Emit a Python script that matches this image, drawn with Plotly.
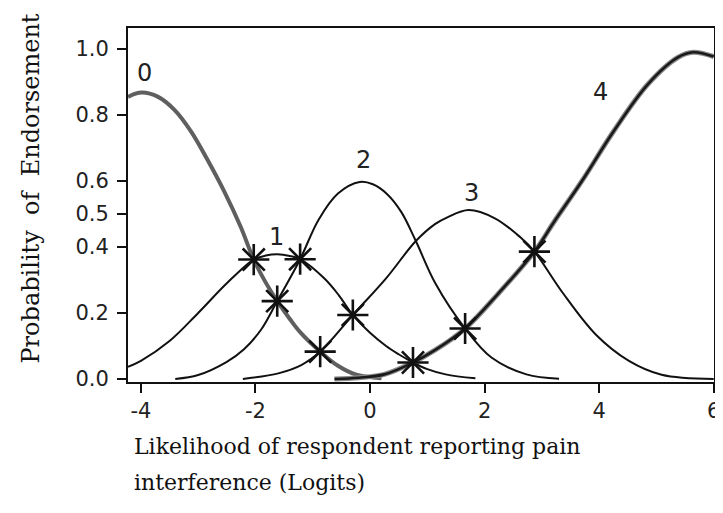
import plotly.graph_objects as go

# ---- data (logits vs probability) ----
x_cat0 = [-4.225, -3.99, -3.70, -3.41, -3.12, -2.84, -2.55, -2.26, -2.03, -1.82, -1.62, -1.40, -1.22, -0.87, -0.56, -0.24, 0.20]
y_cat0 = [0.855, 0.868, 0.855, 0.815, 0.749, 0.665, 0.570, 0.462, 0.362, 0.292, 0.236, 0.182, 0.142, 0.083, 0.040, 0.013, 0.002]

x_cat1 = [-4.225, -4.0, -3.5, -3.0, -2.5, -2.03, -1.82, -1.62, -1.40, -1.22, -0.80, -0.55, -0.30, 0.0, 0.28, 0.50, 0.75, 1.0, 1.32, 1.84]
y_cat1 = [0.037, 0.055, 0.115, 0.200, 0.290, 0.362, 0.374, 0.378, 0.373, 0.363, 0.305, 0.255, 0.194, 0.140, 0.100, 0.075, 0.050, 0.030, 0.014, 0.002]

x_cat2 = [-3.40, -3.0, -2.5, -2.2, -1.9, -1.62, -1.22, -0.90, -0.56, -0.18, 0.05, 0.30, 0.55, 0.80, 1.14, 1.66, 2.12, 2.73, 3.30]
y_cat2 = [0.0, 0.012, 0.052, 0.090, 0.150, 0.236, 0.363, 0.482, 0.562, 0.597, 0.590, 0.560, 0.505, 0.418, 0.290, 0.153, 0.065, 0.014, 0.001]

x_cat3 = [-2.22, -1.60, -1.20, -0.87, -0.30, 0.28, 0.80, 1.14, 1.35, 1.72, 2.18, 2.62, 2.87, 3.36, 3.94, 4.52, 5.09, 6.0]
y_cat3 = [0.0, 0.017, 0.042, 0.083, 0.194, 0.305, 0.418, 0.470, 0.490, 0.512, 0.487, 0.430, 0.386, 0.262, 0.135, 0.055, 0.013, 0.0]

x_cat4 = [-0.62, -0.20, 0.25, 0.75, 1.14, 1.66, 2.22, 2.87, 3.22, 3.70, 4.25, 4.85, 5.38, 5.64, 6.0]
y_cat4 = [0.0, 0.004, 0.014, 0.050, 0.088, 0.153, 0.255, 0.386, 0.478, 0.600, 0.750, 0.893, 0.975, 0.990, 0.977]

# crossing points marked with asterisks
x_cross = [-2.03, -1.62, -1.22, -0.87, -0.30, 0.75, 1.66, 2.87]
y_cross = [0.362, 0.236, 0.363, 0.083, 0.194, 0.050, 0.153, 0.386]

# category labels
lab_text = ["0", "1", "2", "3", "4"]
lab_x = [-3.93, -1.635, -0.12, 1.77, 4.03]
lab_y = [0.926, 0.431, 0.664, 0.565, 0.871]

x_ticks = [-4, -2, 0, 2, 4, 6]
y_ticks = [0.0, 0.2, 0.4, 0.5, 0.6, 0.8, 1.0]
y_tick_text = ["0.0", "0.2", "0.4", "0.5", "0.6", "0.8", "1.0"]

X_RANGE = [-4.225, 6.005]
Y_RANGE = [-0.0091, 1.0636]

fig = go.Figure()

def curve(x, y, color, width):
    fig.add_trace(go.Scatter(x=x, y=y, mode="lines",
                             line=dict(color=color, width=width, shape="spline", smoothing=1.0),
                             hoverinfo="skip", showlegend=False))

curve(x_cat1, y_cat1, "#111111", 2)
curve(x_cat2, y_cat2, "#111111", 2)
curve(x_cat3, y_cat3, "#111111", 2)
curve(x_cat0, y_cat0, "#5f5f5f", 4)
curve(x_cat4, y_cat4, "#8a8a8a", 5)
curve(x_cat4, y_cat4, "#1a1a1a", 2.6)

fig.add_trace(go.Scatter(x=x_cross, y=y_cross, mode="markers",
                         marker=dict(symbol="asterisk-open", size=26, color="#111111",
                                     line=dict(color="#111111", width=2.6)),
                         hoverinfo="skip", showlegend=False))

for t, lx, ly in zip(lab_text, lab_x, lab_y):
    fig.add_annotation(x=lx, y=ly, xref="x", yref="y", text=t, showarrow=False,
                       font=dict(family="DejaVu Sans", size=24, color="#222222"))

# axis titles
fig.add_annotation(x=-0.1672, y=0.5466, xref="paper", yref="paper",
                   xanchor="center", yanchor="middle",
                   text="Probability\u00a0 of\u00a0 Endorsement", textangle=-90, showarrow=False,
                   font=dict(family="DejaVu Serif", size=24, color="#111111"))
fig.add_annotation(x=0.0068, y=-0.1836, xref="paper", yref="paper", xanchor="left", yanchor="middle",
                   text="Likelihood of respondent reporting pain", showarrow=False,
                   font=dict(family="DejaVu Serif", size=22, color="#111111"))
fig.add_annotation(x=0.0068, y=-0.2853, xref="paper", yref="paper", xanchor="left", yanchor="middle",
                   text="interference (Logits)", showarrow=False,
                   font=dict(family="DejaVu Serif", size=22, color="#111111"))

axis_common = dict(showgrid=False, zeroline=False, ticks="outside", ticklen=9,
                   tickwidth=2, tickcolor="#111111", automargin=False,
                   showline=True, linecolor="#111111", linewidth=2, mirror=True)

# the page body adds an 8px margin on every side, so the figure is kept inside the window
fig.update_layout(
    width=707, height=497,
    margin=dict(l=120, r=1, t=20, b=123),
    paper_bgcolor="white", plot_bgcolor="white",
    font=dict(family="DejaVu Sans", size=21, color="#222222"),
    xaxis=dict(range=X_RANGE, tickvals=x_ticks, ticktext=[str(v) for v in x_ticks],
               ticklabeloverflow="allow", **axis_common),
    yaxis=dict(range=Y_RANGE, tickvals=y_ticks, ticktext=y_tick_text, ticklabelstandoff=4, **axis_common),
    xaxis2=dict(range=X_RANGE, overlaying="x", anchor="y", side="bottom", tickvals=x_ticks,
                showticklabels=False, ticks="inside", ticklen=9, tickwidth=2, tickcolor="#111111",
                showgrid=False, zeroline=False, showline=False, automargin=False),
    yaxis2=dict(range=Y_RANGE, overlaying="y", anchor="x", side="left", tickvals=y_ticks,
                showticklabels=False, ticks="inside", ticklen=8, tickwidth=2, tickcolor="#111111",
                showgrid=False, zeroline=False, showline=False, automargin=False),
)

fig.write_html("out.html")
